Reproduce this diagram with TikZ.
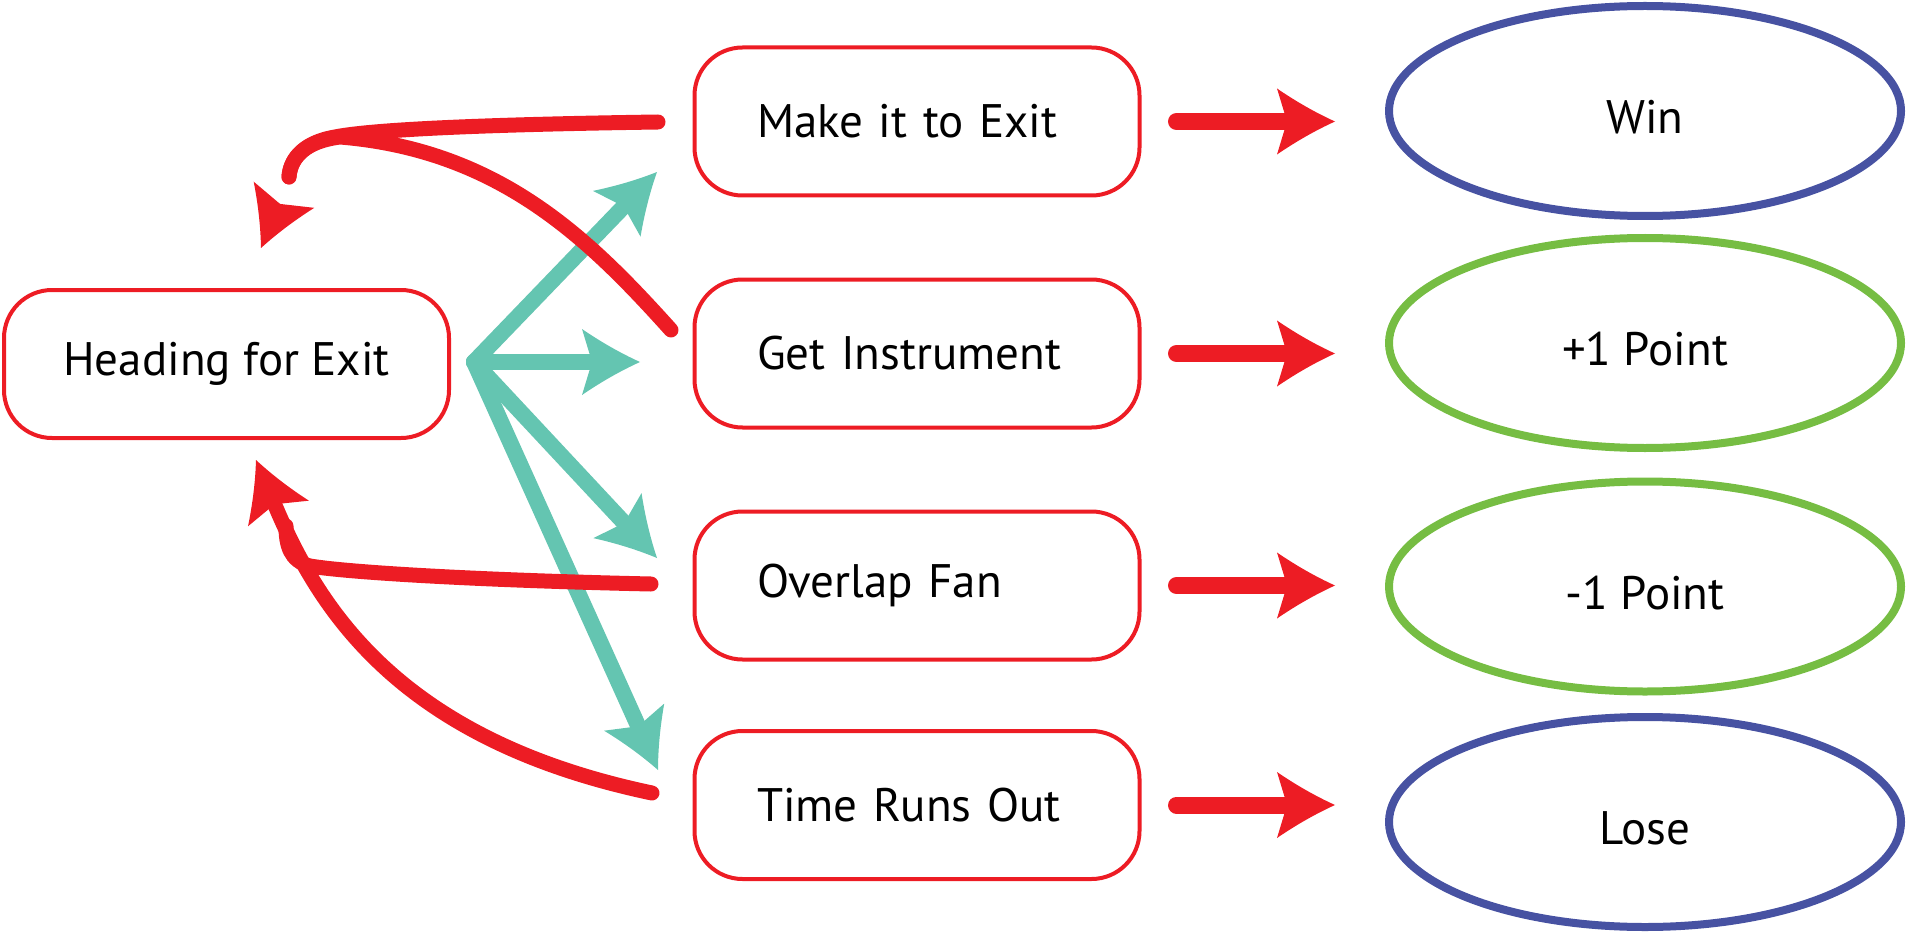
\documentclass[tikz,border=0pt]{standalone}
\usepackage{fontspec}
\setmainfont{PT Sans}
\usepackage{tikz}
\usetikzlibrary{arrows.meta,shapes.geometric,calc}

\definecolor{exitred}{RGB}{237,28,36}
\definecolor{fanteal}{RGB}{100,197,177}
\definecolor{endblue}{RGB}{71,82,162}
\definecolor{endgreen}{RGB}{118,189,67}

% arrow head with slightly hollow sides
\pgfdeclarearrow{
  name = Swoop,
  parameters = {\the\pgfarrowlength,\the\pgfarrowwidth,\the\pgfarrowinset},
  setup code = {
    \pgfarrowssettipend{\pgfarrowlength}
    \pgfarrowssetlineend{\pgfarrowinset}
    \pgfarrowssetvisualbackend{\pgfarrowinset}
    \pgfarrowshullpoint{\pgfarrowlength}{0pt}
    \pgfarrowsupperhullpoint{0pt}{.5\pgfarrowwidth}
    \pgfarrowssavethe\pgfarrowlength
    \pgfarrowssavethe\pgfarrowwidth
    \pgfarrowssavethe\pgfarrowinset
  },
  drawing code = {
    \pgfpathmoveto{\pgfqpoint{\pgfarrowlength}{0pt}}
    \pgfpathcurveto{\pgfqpoint{.667\pgfarrowlength}{.133\pgfarrowwidth}}
                   {\pgfqpoint{.333\pgfarrowlength}{.3\pgfarrowwidth}}
                   {\pgfqpoint{0pt}{.5\pgfarrowwidth}}
    \pgfpathlineto{\pgfqpoint{\pgfarrowinset}{0pt}}
    \pgfpathlineto{\pgfqpoint{0pt}{-.5\pgfarrowwidth}}
    \pgfpathcurveto{\pgfqpoint{.333\pgfarrowlength}{-.3\pgfarrowwidth}}
                   {\pgfqpoint{.667\pgfarrowlength}{-.133\pgfarrowwidth}}
                   {\pgfqpoint{\pgfarrowlength}{0pt}}
    \pgfpathclose
    \pgfusepathqfill
  },
  defaults = {length=58pt, width=66pt, inset=10pt}
}

\tikzset{
  state/.style={draw=exitred, line width=4pt, rounded corners=48pt, minimum width=445pt,
    minimum height=148pt, inner sep=0pt, font=\fontsize{47pt}{56pt}\selectfont},
  choice/.style={state, text width=320pt, inner xsep=62pt, align=left},
  ending/.style={ellipse, line width=8pt, minimum width=512pt, minimum height=210pt,
    inner sep=0pt, text height=45pt, text depth=0pt, font=\fontsize{47pt}{56pt}\selectfont},
  go/.style={exitred, line width=17pt, line cap=round, -{Swoop}},
  back/.style={exitred, line width=15pt, line cap=round},
  fan/.style={fanteal, line width=16pt, line cap=round, -{Swoop}}
}

\begin{document}
\begin{tikzpicture}[x=1pt, y=-1pt]
    \useasboundingbox (0,0) rectangle (1913,933);

    \node[state]  (head) at (226.5,364) {Heading for Exit};
    \node[choice] (mk)   at (917,121.5) {Make it to Exit};
    \node[choice] (gi)   at (917,353.5) {Get Instrument};
    \node[choice] (ov)   at (917,585.5) {Overlap Fan};
    \node[choice] (tro)  at (917,805)   {Time Runs Out};

    \node[ending, draw=endblue]  (win)   at (1645,111)   {Win};
    \node[ending, draw=endgreen] (plus)  at (1645,343)   {+1 Point};
    \node[ending, draw=endgreen] (minus) at (1645,586.5) {-1 Point};
    \node[ending, draw=endblue]  (lose)  at (1645,822)   {Lose};

    % outcome arrows
    \draw[go, shorten <=35pt, shorten >=50pt] (mk.east)  -- (mk.east -| win.west);
    \draw[go, shorten <=35pt, shorten >=50pt] (gi.east)  -- (gi.east -| plus.west);
    \draw[go, shorten <=35pt, shorten >=50pt] (ov.east)  -- (ov.east -| minus.west);
    \draw[go, shorten <=35pt, shorten >=50pt] (tro.east) -- (tro.east -| lose.west);

    % fan out of the heading state
    \coordinate (hub) at ($(head.east)+(23,-2)$);
    \coordinate (t1) at (657,172);
    \coordinate (t2) at (640,362);
    \coordinate (t3) at (657,558);
    \coordinate (t4) at (658,770);
    \draw[fan] (hub) -- (t1);
    \draw[fan] (hub) -- (t2);
    \draw[fan] (hub) -- (t3);
    \draw[fan] (hub) -- (t4);

    % ways back to the heading state
    \coordinate (a0) at (658,122);
    \coordinate (b0) at (671,330);
    \coordinate (c0) at (651,584);
    \coordinate (d0) at (652,793);
    \coordinate (topnotch) at (280,204);
    \coordinate (toptip)   at (261,248);
    \coordinate (lowtip)   at (256,460);

    \draw[back] (a0) .. controls (450,125) and (365,131) .. (335,137)
                     .. controls (300,143) and (290,162) .. (289,177);
    \draw[back] (b0) .. controls (590,240) and (500,150) .. (340,137)
                     .. controls (300,142) and (290,162) .. (289,177);
    \draw[back, line cap=butt, -{Swoop}] (topnotch) -- (toptip);
    \draw[back] (c0) .. controls (470,580) and (345,572) .. (310,566)
                     .. controls (290,561) and (286,545) .. (286,526);
    \draw[back, -{Swoop}] (d0) .. controls (400,740) and (319,610) .. (lowtip);
\end{tikzpicture}
\end{document}
